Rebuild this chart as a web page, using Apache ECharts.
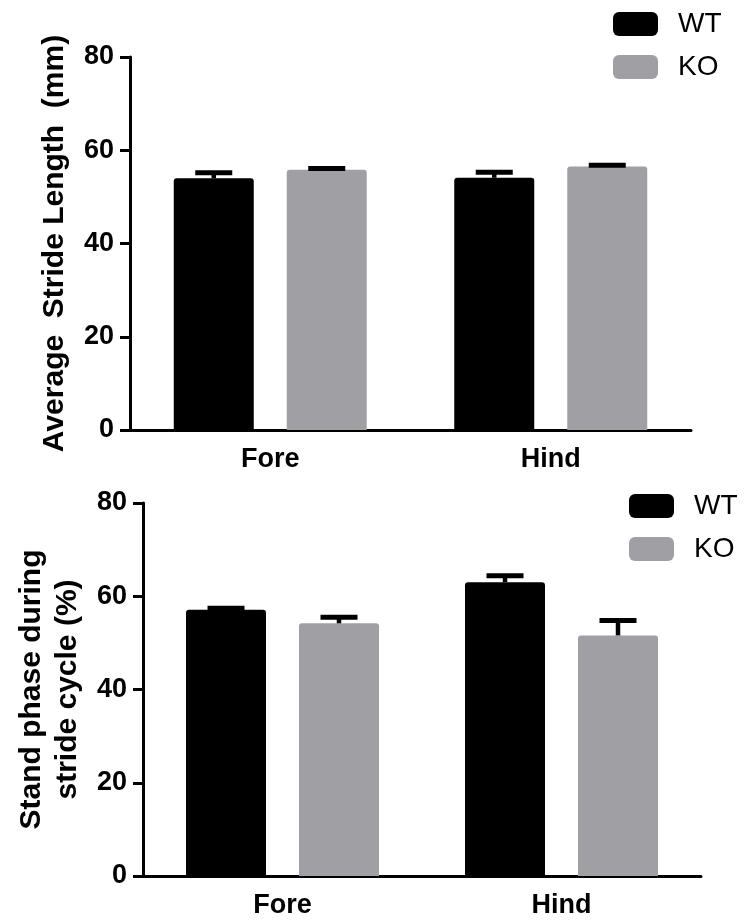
<!DOCTYPE html>
<html>
<head>
<meta charset="utf-8">
<title>Stride</title>
<script src="https://cdn.jsdelivr.net/npm/echarts@6/dist/echarts.min.js"></script>
<style>
  html, body { margin: 0; padding: 0; background: #fff; }
  #main { width: 750px; height: 920px; }
</style>
</head>
<body>
<div id="main"></div>
<script>
// data
var categories = ['Fore', 'Hind'];
var yTicks = [0, 20, 40, 60, 80];

var strideWT = [54.0, 54.1];
var strideWTerr = [1.2, 1.2];
var strideKO = [55.8, 56.5];
var strideKOerr = [0.3, 0.3];

var standWT = [57.1, 63.0];
var standWTerr = [0.3, 1.4];
var standKO = [54.2, 51.6];
var standKOerr = [1.3, 3.2];

var FONT = '"Liberation Sans", Arial, sans-serif';
var BAR_W = 80;
var BAR_GAP = 33;
var OFFSET = (BAR_W + BAR_GAP) / 2;
var GREY = '#a09fa4';

function errData(vals, errs) {
    return categories.map(function (c, i) { return [i, vals[i], errs[i]]; });
}

function errRender(side) {
    return function (params, api) {
        var base = api.coord([api.value(0), api.value(1)]);
        var top = api.coord([api.value(0), api.value(1) + api.value(2)]);
        var x = base[0] + side * OFFSET;
        return {
            type: 'group',
            children: [
                { type: 'line', shape: { x1: x, y1: base[1], x2: x, y2: top[1] },
                  style: { stroke: '#000', lineWidth: 4.5 } },
                { type: 'line', shape: { x1: x - 18.5, y1: top[1], x2: x + 18.5, y2: top[1] },
                  style: { stroke: '#000', lineWidth: 5 } }
            ]
        };
    };
}

function xAxis(idx) {
    return {
        type: 'category', gridIndex: idx, data: categories,
        boundaryGap: true,
        axisLine: { lineStyle: { color: '#000', width: 3 } },
        axisTick: { alignWithLabel: true, length: 10, lineStyle: { color: '#000', width: 3 } },
        axisLabel: { color: '#000', fontSize: 27, fontWeight: 'bold', fontFamily: FONT, margin: 16 },
        splitLine: { show: false }
    };
}

function yAxis(idx, name, gap) {
    return {
        type: 'value', gridIndex: idx, min: yTicks[0], max: yTicks[yTicks.length - 1], interval: 20,
        name: name, nameLocation: 'middle', nameGap: gap, nameRotate: 90,
        nameTextStyle: { color: '#000', fontSize: 30, fontWeight: 'bold', fontFamily: FONT, lineHeight: 36 },
        axisLine: { show: true, lineStyle: { color: '#000', width: 3 } },
        axisTick: { show: true, length: 10, lineStyle: { color: '#000', width: 3 } },
        axisLabel: { color: '#000', fontSize: 27, fontWeight: 'bold', fontFamily: FONT, margin: 16 },
        splitLine: { show: false }
    };
}

function legend(left, top) {
    return {
        orient: 'vertical', left: left, top: top, padding: 0,
        data: ['WT', 'KO'], selectedMode: false,
        icon: 'roundRect', itemWidth: 45, itemHeight: 24, itemGap: 15,
        textStyle: { color: '#000', fontSize: 28, fontFamily: FONT, padding: [0, 0, 0, 15] }
    };
}

function bar(name, color, idx, vals) {
    return {
        name: name, type: 'bar', xAxisIndex: idx, yAxisIndex: idx,
        data: vals, barWidth: BAR_W, barGap: (BAR_GAP / BAR_W * 100) + '%',
        itemStyle: { color: color, borderRadius: [3, 3, 0, 0] }
    };
}

function err(idx, vals, errs, side) {
    return {
        type: 'custom', xAxisIndex: idx, yAxisIndex: idx, z: 5,
        data: errData(vals, errs), renderItem: errRender(side)
    };
}

var chart = echarts.init(document.getElementById('main'));
chart.setOption({
    backgroundColor: '#fff',
    animation: false,
    legend: [legend(613, 10), legend(629, 492)],
    grid: [
        { left: 130, top: 57, width: 561, height: 373 },
        { left: 143, top: 503, width: 558, height: 373 }
    ],
    xAxis: [xAxis(0), xAxis(1)],
    yAxis: [
        yAxis(0, 'Average  Stride Length  (mm)', 57),
        yAxis(1, 'Stand phase during\nstride cycle (%)', 57)
    ],
    series: [
        bar('WT', '#000', 0, strideWT),
        bar('KO', GREY, 0, strideKO),
        bar('WT', '#000', 1, standWT),
        bar('KO', GREY, 1, standKO),
        err(0, strideWT, strideWTerr, -1),
        err(0, strideKO, strideKOerr, 1),
        err(1, standWT, standWTerr, -1),
        err(1, standKO, standKOerr, 1)
    ]
});
</script>
</body>
</html>
